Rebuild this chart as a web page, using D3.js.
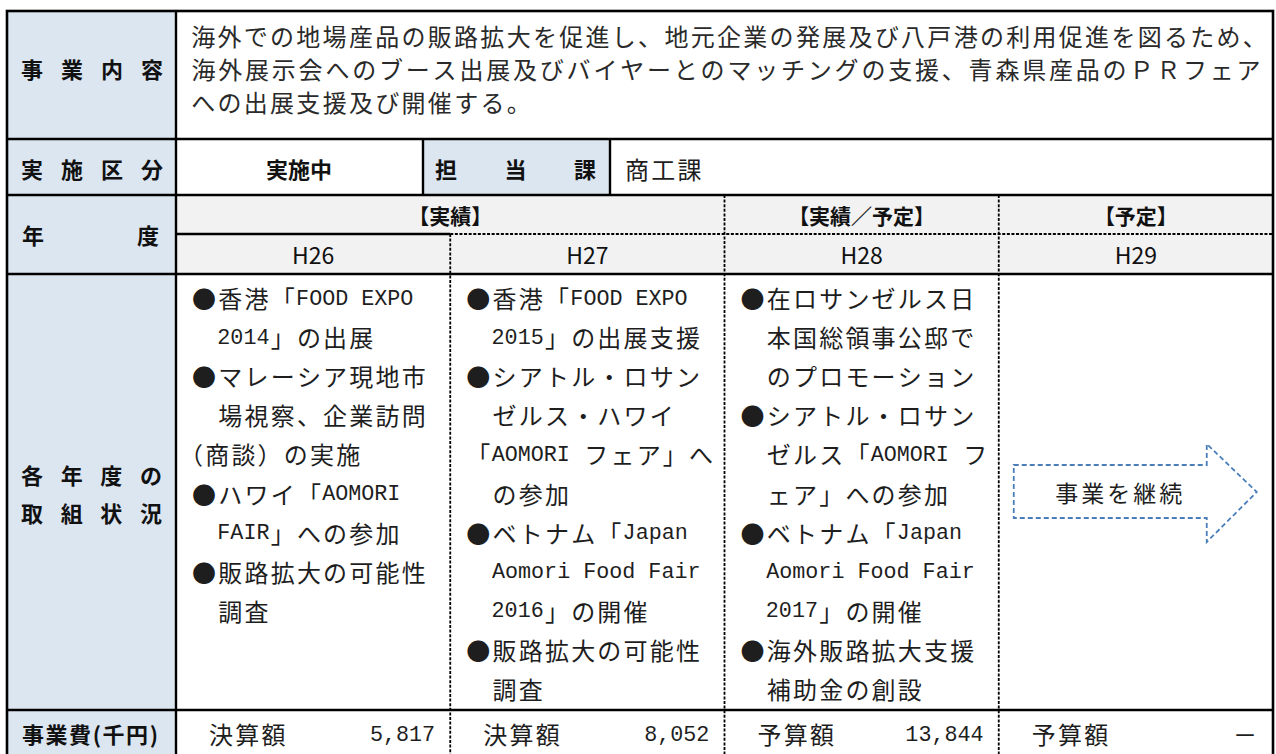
<!DOCTYPE html>
<html><head><meta charset="utf-8">
<script src="https://cdn.jsdelivr.net/npm/d3@7"></script>
<style>
html,body{margin:0;padding:0;background:#fff;}
svg{display:block;}
</style></head>
<body>
<svg id="chart" width="1276" height="754"></svg>
<script>
// ---------------- data ----------------
const years = ["H26", "H27", "H28", "H29"];
const groupLabels = ["【実績】", "【実績／予定】", "【予定】"];
const groupSpans = [["H26", "H27"], ["H28"], ["H29"]];
const descriptionLines = [
  "海外での地場産品の販路拡大を促進し、地元企業の発展及び八戸港の利用促進を図るため、",
  "海外展示会へのブース出展及びバイヤーとのマッチングの支援、青森県産品のＰＲフェア",
  "への出展支援及び開催する。"
];
const statusText = "実施中";
const deptLabel = "担当課";
const deptName = "商工課";
const rowLabelTop = ["事業内容", "実施区分", "年度"];
const rowLabelActivity = ["各年度の", "取組状況"];
const costLabel = "事業費(千円)";
// [indent level, text]
const activitiesH26 = [
  [0, "●香港「FOOD EXPO"], [1, "2014」の出展"], [0, "●マレーシア現地市"], [1, "場視察、企業訪問"],
  [0, "（商談）の実施"], [0, "●ハワイ「AOMORI"], [1, "FAIR」への参加"], [0, "●販路拡大の可能性"], [1, "調査"]
];
const activitiesH27 = [
  [0, "●香港「FOOD EXPO"], [1, "2015」の出展支援"], [0, "●シアトル・ロサン"], [1, "ゼルス・ハワイ"],
  [0, "「AOMORI フェア」へ"], [1, "の参加"], [0, "●ベトナム「Japan"], [1, "Aomori Food Fair"],
  [1, "2016」の開催"], [0, "●販路拡大の可能性"], [1, "調査"]
];
const activitiesH28 = [
  [0, "●在ロサンゼルス日"], [1, "本国総領事公邸で"], [1, "のプロモーション"], [0, "●シアトル・ロサン"],
  [1, "ゼルス「AOMORI フ"], [1, "ェア」への参加"], [0, "●ベトナム「Japan"], [1, "Aomori Food Fair"],
  [1, "2017」の開催"], [0, "●海外販路拡大支援"], [1, "補助金の創設"]
];
const activitiesH29 = [];
const continueLabel = "事業を継続";
const costTypes = ["決算額", "決算額", "予算額", "予算額"];
const costValues = [5817, 8052, 13844, null];

// ---------------- layout ----------------
const svg = d3.select("#chart");
const L = 7, R = 1273, T = 11, LABR = 176;
const rowY = {descTop: T, descBot: 139, rowBot: 195, grpBot: 234, yrBot: 274, actBot: 710, costBot: 790};
const x = d3.scaleBand().domain(years).range([LABR, R]);
const lineY = d3.scaleLinear().domain([0, 10]).range([297, 688]);
const PITCH = 26.2;
const CJK = "'Noto Sans CJK JP','Noto Sans CJK SC',sans-serif";
const MONO = "'Liberation Mono','DejaVu Sans Mono',monospace";
const NARROW = "'Liberation Sans Narrow','Noto Sans CJK JP',sans-serif";
const BLUE_BG = "#dce6f1", GRAY_BG = "#f2f2f2", TXT = "#1e1e1e";
const fmt = d3.format(",");

// backgrounds
svg.append("rect").attr("x", L).attr("y", T).attr("width", LABR - L).attr("height", rowY.costBot - T).attr("fill", BLUE_BG);
svg.append("rect").attr("x", LABR).attr("y", rowY.rowBot).attr("width", R - LABR).attr("height", rowY.yrBot - rowY.rowBot).attr("fill", GRAY_BG);
svg.append("rect").attr("x", 423).attr("y", rowY.descBot).attr("width", 610 - 423).attr("height", rowY.rowBot - rowY.descBot).attr("fill", BLUE_BG);

// grid-text helper: full-width chars take one pitch; ASCII runs (monospace) take half a pitch per char
function isHalf(c) { return /[\x20-\x7e]/.test(c); }
function gridText(g, str, x0, yc, opt) {
  const o = Object.assign({pitch: PITCH, size: 24, color: TXT, width: null, compressFirst: false}, opt || {});
  const chars = [...str];
  const tokens = [];
  chars.forEach((c, i) => {
    if (isHalf(c)) {
      const last = tokens[tokens.length - 1];
      if (last && last.half) last.s += c; else tokens.push({s: c, half: true});
    } else tokens.push({s: c, half: false, first: i === 0});
  });
  const unitsOf = tk => tk.half ? tk.s.length * 0.5 : ((o.compressFirst && tk.first) ? 0.5 : 1);
  const total = d3.sum(tokens, unitsOf);
  const p = o.width ? o.width / total : o.pitch;
  const t = g.append("text")
    .attr("y", yc)
    .attr("text-anchor", "middle")
    .attr("dominant-baseline", "central")
    .attr("font-family", CJK)
    .attr("font-size", o.size)
    .attr("fill", o.color);
  let cx = x0;
  tokens.forEach(tk => {
    const w = unitsOf(tk) * p;
    if (tk.half) {
      const s = tk.s.replace(/^ +| +$/g, "");
      const lead = tk.s.length - tk.s.replace(/^ +/, "").length;
      if (s.length) {
        const sx = cx + lead * p / 2;
        t.append("tspan").attr("x", sx + s.length * p / 4).attr("y", yc + 1.6)
          .attr("dominant-baseline", "central")
          .attr("font-family", MONO).attr("font-size", p / 2 / 0.6 - 0.1)
          .attr("xml:space", "preserve")
          .text(s);
      }
    } else {
      let px = cx + w / 2;
      if (o.compressFirst && tk.first) px = cx + w - p / 2;
      t.append("tspan").attr("x", px).attr("y", yc).attr("dominant-baseline", "central").text(tk.s);
    }
    cx += w;
  });
  return cx;
}
function spreadText(g, str, x1, x2, yc, opt) {
  const o = Object.assign({size: 22, weight: 700, color: "#111"}, opt || {});
  const chars = [...str];
  const sx = d3.scaleLinear().domain([0, chars.length - 1]).range([x1, x2]);
  const t = g.append("text").attr("y", yc)
    .attr("text-anchor", "middle").attr("dominant-baseline", "central")
    .attr("font-family", CJK).attr("font-size", o.size).attr("font-weight", o.weight)
    .attr("fill", o.color);
  chars.forEach((c, i) => t.append("tspan").attr("x", sx(i)).attr("y", yc).attr("dominant-baseline", "central").text(c));
}

const gText = svg.append("g");

// row labels
spreadText(gText, rowLabelTop[0], 32, 152, 68);
spreadText(gText, rowLabelTop[1], 32, 152, 168);
spreadText(gText, rowLabelTop[2], 33, 148, 234);
spreadText(gText, rowLabelActivity[0], 32, 151, 474);
spreadText(gText, rowLabelActivity[1], 32, 151, 512);
gText.append("text").attr("x", 90).attr("y", 733)
  .attr("text-anchor", "middle").attr("dominant-baseline", "central")
  .attr("font-family", CJK).attr("font-size", 22).attr("font-weight", 700).attr("fill", "#111")
  .attr("textLength", 136).attr("lengthAdjust", "spacing").text(costLabel);

// description
const descWidths = [1078, 1072, null];
descriptionLines.forEach((s, i) => gridText(gText, s, 190, [35, 68, 101][i], {width: descWidths[i], pitch: 26.3, color: "#2a2a2a"}));

// row 2
gText.append("text").attr("x", 299).attr("y", 168)
  .attr("text-anchor", "middle").attr("dominant-baseline", "central")
  .attr("font-family", CJK).attr("font-size", 22).attr("font-weight", 700).attr("fill", "#111").text(statusText);
spreadText(gText, deptLabel, 446, 585, 168);
gridText(gText, deptName, 624, 168, {pitch: 26.2});

// group headers
groupLabels.forEach((lab, i) => {
  const span = groupSpans[i];
  const x1 = x(span[0]), x2 = x(span[span.length - 1]) + x.bandwidth();
  gText.append("text").attr("x", (x1 + x2) / 2).attr("y", 215)
    .attr("text-anchor", "middle").attr("dominant-baseline", "central")
    .attr("font-family", CJK).attr("font-size", 21).attr("font-weight", 700).attr("fill", "#111").text(lab);
});
years.forEach(y => gText.append("text").attr("x", x(y) + x.bandwidth() / 2).attr("y", 254)
  .attr("text-anchor", "middle").attr("dominant-baseline", "central")
  .attr("font-family", NARROW).attr("font-size", 23).attr("font-weight", 400).attr("fill", "#111").text(y));

// activities
const acts = {H26: activitiesH26, H27: activitiesH27, H28: activitiesH28, H29: activitiesH29};
years.forEach(y => {
  acts[y].forEach(([ind, s], i) => {
    const x0 = x(y) + 15 + ind * PITCH;
    const compress = (s[0] === "（");
    gridText(gText, s, x0, lineY(i), {compressFirst: compress});
  });
});

// continue arrow in H29
(function () {
  const bx = x("H29"), cy = 492;
  const pts = [[bx + 15, cy - 27], [bx + 208, cy - 27], [bx + 208, cy - 48], [bx + 258, cy],
               [bx + 208, cy + 50], [bx + 208, cy + 26], [bx + 15, cy + 26]];
  svg.append("path").attr("d", d3.line()(pts) + "Z")
    .attr("fill", "#fff").attr("stroke", "#4a7ebb").attr("stroke-width", 1.8)
    .attr("stroke-dasharray", "5,3");
  gridText(svg, continueLabel, bx + 55, cy, {pitch: 26, size: 23});
})();

// costs
years.forEach((y, i) => {
  gridText(gText, costTypes[i], x(y) + 32, 733, {pitch: 26.2});
  const v = costValues[i] == null ? "－" : fmt(costValues[i]);
  const chars = [...v];
  const w = d3.sum(chars, c => isHalf(c) ? 0.5 : 1) * PITCH;
  gridText(gText, v, x(y) + x.bandwidth() - 15 - w, 733, {pitch: PITCH});
});

// ---------------- lines ----------------
const gl = svg.append("g").attr("fill", "none");
function solid(x1, y1, x2, y2, w) {
  gl.append("line").attr("x1", x1).attr("y1", y1).attr("x2", x2).attr("y2", y2)
    .attr("stroke", "#000").attr("stroke-width", w || 2.4);
}
function dashed(x1, y1, x2, y2) {
  gl.append("line").attr("x1", x1).attr("y1", y1).attr("x2", x2).attr("y2", y2)
    .attr("stroke", "#000").attr("stroke-width", 1.8).attr("stroke-dasharray", "3,1.6");
}
[rowY.descBot, rowY.rowBot, rowY.yrBot, rowY.actBot].forEach(yy => solid(L, yy, R, yy));
solid(LABR, rowY.grpBot, x("H27"), rowY.grpBot);
dashed(x("H27"), rowY.grpBot, R, rowY.grpBot);
solid(LABR, T, LABR, rowY.costBot);
solid(423, rowY.descBot, 423, rowY.rowBot);
solid(610, rowY.descBot, 610, rowY.rowBot);
dashed(x("H27"), rowY.grpBot, x("H27"), rowY.costBot);
dashed(x("H28"), rowY.rowBot, x("H28"), rowY.costBot);
dashed(x("H29"), rowY.rowBot, x("H29"), rowY.costBot);
gl.append("rect").attr("x", L).attr("y", T).attr("width", R - L).attr("height", rowY.costBot - T)
  .attr("stroke", "#000").attr("stroke-width", 2.6);
</script>
</body></html>
